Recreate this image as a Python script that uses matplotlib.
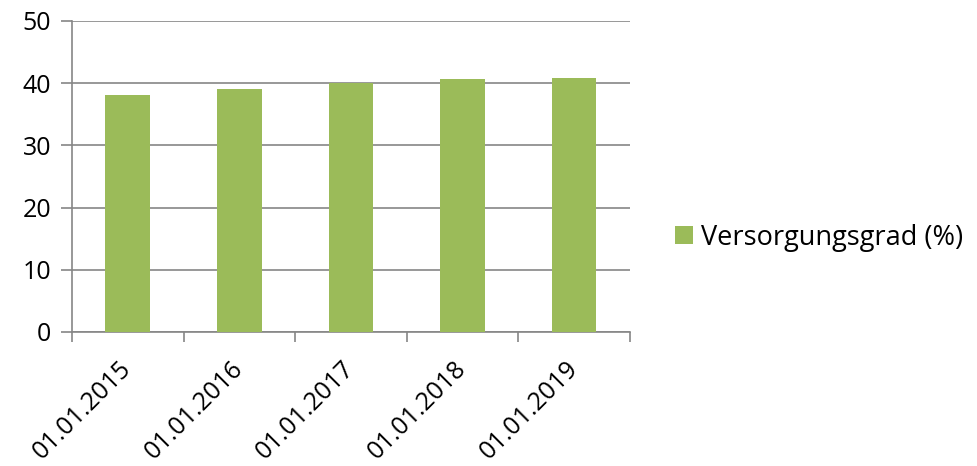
import numpy as np
import matplotlib.pyplot as plt
from matplotlib.ticker import FixedLocator, NullFormatter

# data
dates = ["01.01.2015", "01.01.2016", "01.01.2017", "01.01.2018", "01.01.2019"]
versorgungsgrad = [38.1, 39.0, 40.0, 40.6, 40.9]
series_name = "Versorgungsgrad (%)"

plt.rcParams['font.family'] = ['Open Sans', 'DejaVu Sans']

bar_color = "#9BBB59"
grid_color = "#868686"

fig = plt.figure(figsize=(9.78, 4.66), dpi=100)
ax = fig.add_axes([0.0736, 0.2876, 0.5705, 0.6674])

x = np.arange(len(dates))
ax.bar(x, versorgungsgrad, width=0.4, color=bar_color, label=series_name, zorder=3)

ax.set_xlim(-0.5, len(dates) - 0.5)
ax.set_ylim(0, 50)
ax.set_yticks(np.arange(0, 51, 10))
ax.yaxis.grid(True, color=grid_color, linewidth=1.2, zorder=0)

# category labels at centres, tick marks at the boundaries
ax.set_xticks(x)
ax.set_xticklabels(dates, rotation=45, ha='right', va='center',
                   rotation_mode='anchor', fontsize=18)
ax.tick_params(axis='x', which='major', length=0, pad=24)
ax.xaxis.set_minor_locator(FixedLocator(np.arange(-0.5, len(dates), 1.0)))
ax.xaxis.set_minor_formatter(NullFormatter())
ax.tick_params(axis='x', which='minor', length=7, width=1.2, color=grid_color)
ax.tick_params(axis='y', length=8, width=1.2, color=grid_color, labelsize=18, pad=7)

for side in ['top', 'right']:
    ax.spines[side].set_visible(False)
for side in ['left', 'bottom']:
    ax.spines[side].set_color(grid_color)
    ax.spines[side].set_linewidth(1.2)

fig.legend(loc='center left', bbox_to_anchor=(0.665, 0.49), frameon=False,
           fontsize=19.5, handlelength=0.68, handleheight=0.68, handletextpad=0.3)

plt.savefig("out.png", dpi=100)
